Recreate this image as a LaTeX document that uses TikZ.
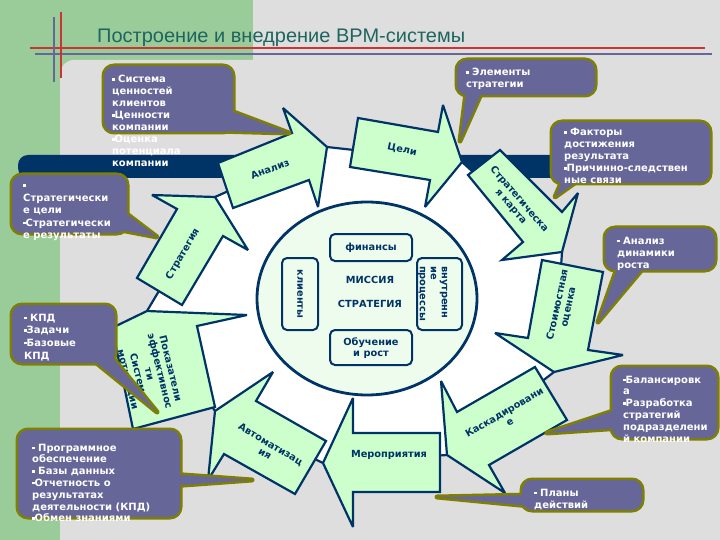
\documentclass[tikz,border=0pt]{standalone}
\usepackage{graphicx}
\usepackage{fontspec}
\setmainfont{Liberation Sans}
\newfontfamily\vfont{DejaVu Sans}
\definecolor{navy}{RGB}{0,51,102}
\definecolor{agreen}{RGB}{204,255,204}
\definecolor{cfill}{RGB}{238,252,238}
\definecolor{cpurple}{RGB}{102,102,153}
\definecolor{colive}{RGB}{128,128,0}
\definecolor{bggreen}{RGB}{153,204,153}
\definecolor{bggray}{RGB}{222,222,222}
\definecolor{ttl}{RGB}{30,100,95}
\definecolor{redline}{RGB}{204,51,51}
\definecolor{blueline}{RGB}{102,102,153}
\newcommand\bul{\rule[2pt]{2.5pt}{2.5pt}}
\newcommand\ctext[2][12]{\parbox[t]{200pt}{\raggedright\vfont\bfseries\fontsize{10}{#1}\selectfont #2}}
\newcommand\callout[2]{%
  \draw[cob,rounded corners=10pt] #1;%
  \draw[cob] #2 -- cycle;%
  \fill[cpurple,rounded corners=10pt] #1;%
  \fill[cpurple] #2 -- cycle;}
\begin{document}
\begin{tikzpicture}[x=1pt,y=-1pt,
  arr/.style={fill=agreen,draw=navy,line width=2.2pt,line join=miter,miter limit=4},
  lbl/.style={text=navy,font=\vfont\bfseries\fontsize{9.8}{11}\selectfont,align=center,inner sep=0pt},
  cbox/.style={draw=navy,line width=2pt,rounded corners=5pt,fill=cfill},
  ctxt/.style={text=white,inner sep=0pt,anchor=base west},
  cob/.style={draw=colive,line width=5pt,line join=round}]
\useasboundingbox (0,0) rectangle (720,540);
% background
\fill[bggreen] (0,0) rectangle (720,540);
\fill[bggray] (253,0) rectangle (720,72);
\fill[bggray,rounded corners=14pt] (60,60) rectangle (740,560);
% decorative lines
\draw[redline,line width=1.3pt] (30,48) -- (705,48);
\draw[blueline,line width=1.3pt] (35,54) -- (712,54);
\draw[redline,line width=1.3pt] (61,12) -- (61,78);
\draw[blueline,line width=1.3pt] (54,17) -- (54,82);
% title
\node[anchor=base west,inner sep=0pt,text=ttl] (title) at (97,43)
  {\resizebox{368pt}{13.5pt}{Построение и внедрение ВРМ-системы}};
% banner
\fill[navy,rounded corners=10pt] (18,155) rectangle (600,178);
% white ring area
\draw[fill=white,draw=navy,line width=2.2pt] (327,147) -- (462,162) -- (562,252) -- (554,372)
  -- (447,455) -- (323,463) -- (215,411) -- (147,311) -- (215,197) -- cycle;
% arrows
\draw[arr] (218,163) -- (292,133) -- (283,108) -- (327,147) -- (318,207) -- (309,180) -- (233,208) -- cycle;
\draw[arr] (358,118) -- (438,132) -- (443,105) -- (462,162) -- (425,207) -- (430,180) -- (350,167) -- cycle;
\draw[arr] (500,150) -- (562,212) -- (578,193) -- (562,252) -- (502,260) -- (523,242) -- (468,175) -- cycle;
\draw[arr] (542,260) -- (528,338) -- (495,333) -- (554,372) -- (623,355) -- (588,350) -- (603,272) -- cycle;
\draw[arr] (535,367) -- (457,412) -- (441,381) -- (447,455) -- (505,493) -- (489,465) -- (567,420) -- cycle;
\draw[arr] (440,433) -- (353,433) -- (353,398) -- (323,463) -- (353,527) -- (353,492) -- (440,492) -- cycle;
\draw[arr] (326,441) -- (256,401) -- (273,372) -- (215,411) -- (208,480) -- (224,454) -- (295,494) -- cycle;
\draw[arr] (215,407) -- (197,326) -- (247,315) -- (147,311) -- (58,354) -- (115,342) -- (133,429) -- cycle;
\draw[arr] (182,305) -- (223,236) -- (248,250) -- (215,197) -- (152,195) -- (177,209) -- (137,278) -- cycle;
% central circle
\draw[fill=cfill,draw=navy,line width=2.8pt] (367,298.5) ellipse [x radius=110pt, y radius=96.5pt];
\draw[cbox] (330,234) rectangle (412,261);
\draw[cbox] (282,258) rectangle (318,330);
\draw[cbox] (417,258) rectangle (462,330);
\draw[cbox] (330,330) rectangle (412,365);
\node[lbl] (fin) at (371,247.5) {финансы};
\node[lbl,rotate=-90] (kli) at (300,294) {клиенты};
\node[lbl,rotate=-90,anchor=west,align=left] (vnu) at (432.5,266) {внутренн\\ие\\процессы};
\node[lbl] (obu) at (371,348) {Обучение\\и рост};
\node[lbl] (mis) at (370,280) {МИССИЯ};
\node[lbl] (str) at (370,304) {СТРАТЕГИЯ};
% arrow labels
\node[lbl,rotate=21] (tAn) at (270,169) {Анализ};
\node[lbl,rotate=-12] (tCe) at (402,150) {Цели};
\node[lbl,rotate=-49] (tSk) at (515,203) {Стратегическа\\я карта};
\node[lbl,rotate=78] (tSo) at (563,306) {Стоимостная\\оценка};
\node[lbl,rotate=30.6] (tKa) at (507,417) {Каскадировани\\е};
\node[lbl] (tMe) at (389,455) {Мероприятия};
\node[lbl,rotate=-30.6] (tAv) at (268,449) {Автоматизац\\ия};
\node[lbl,rotate=-76] (tPo) at (149,374) {Показатели\\эффективнос\\ти\\Система\\мотивации};
\node[lbl,rotate=60] (tSt) at (183,254) {Стратегия};
% callouts
\callout{(104,66) rectangle (233,132)}{(215,105) -- (289,133) -- (215,131)}
\node[ctxt] (c1) at (112,83) {\ctext{\bul{} Система\\ценностей\\клиентов\\\bul{}Ценности\\компании\\\bul{}Оценка\\потенциала\\компании}};
\callout{(457,60) rectangle (595,95)}{(467,85) -- (460,141) -- (485,85)}
\node[ctxt] (c2) at (466,76) {\ctext{\bul{} Элементы\\стратегии}};
\callout{(552,122) rectangle (710,183)}{(566,172) -- (555,197) -- (590,172)}
\node[ctxt] (c3) at (564,136) {\ctext{\bul{} Факторы\\достижения\\результата\\\bul{}Причинно-следствен\\ные связи}};
\callout{(605,228) rectangle (715,270)}{(620,260) -- (598,322) -- (650,260)}
\node[ctxt] (c4) at (617,244) {\ctext{\bul{} Анализ\\динамики\\роста}};
\callout{(612,367) rectangle (717,438)}{(622,408) -- (547,433) -- (622,428)}
\node[ctxt] (c5) at (623,383) {\ctext[11.8]{\bul{}Балансировк\\а\\\bul{}Разработка\\стратегий\\подразделени\\й компании}};
\callout{(522,480) rectangle (642,510)}{(530,495) -- (437,497) -- (530,506)}
\node[ctxt] (c6) at (534,496) {\ctext{\bul{} Планы\\действий}};
\callout{(12,175) rectangle (127,233)}{(115,205) -- (157,237) -- (110,228)}
\node[ctxt] (c7) at (23,189) {\ctext[12.5]{\bul\\Стратегически\\е цели\\\bul{}Стратегически\\е результаты}};
\callout{(12,305) rectangle (115,363)}{(83,352) -- (157,412) -- (108,352)}
\node[ctxt] (c8) at (24,321) {\ctext[12.7]{\bul{} КПД\\\bul{}Задачи\\\bul{}Базовые\\КПД}};
\callout{(18,430) rectangle (180,517)}{(170,474) -- (252,480) -- (170,486)}
\node[ctxt] (c9) at (32,451) {\ctext[11.8]{\bul{} Программное\\обеспечение\\\bul{} Базы данных\\\bul{}Отчетность о\\результатах\\деятельности (КПД)\\\bul{}Обмен знаниями}};
\end{tikzpicture}
\end{document}
